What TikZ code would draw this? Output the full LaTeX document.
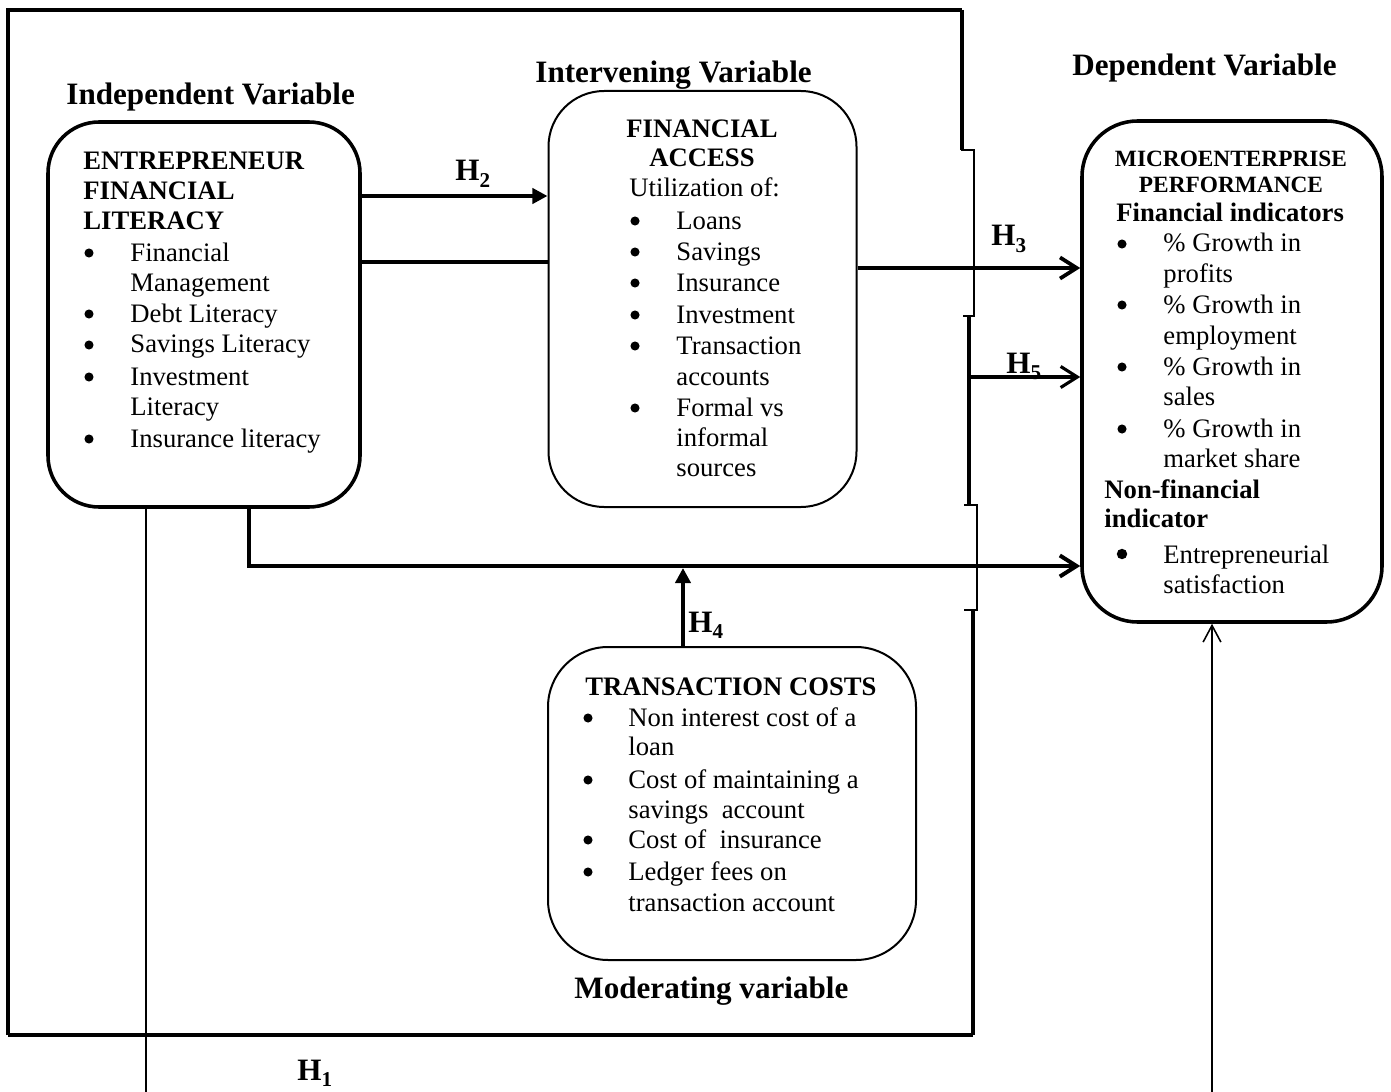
\documentclass[tikz,border=0pt]{standalone}
\usepackage{fontspec}
\setmainfont{Liberation Serif}
\usetikzlibrary{arrows.meta}
\newcommand\hsub[1]{\raisebox{-0.22em}{\fontsize{9.5}{10}\selectfont\bfseries #1}}
\begin{document}
\begin{tikzpicture}[x=0.45pt,y=-0.45pt,
  line join=miter,
  boxa/.style={draw, inner sep=0, line width=1.6pt},
  boxb/.style={draw, inner sep=0, line width=0.9pt},
  ln/.style={anchor=base west, inner sep=0, font=\fontsize{12}{14}\selectfont},
  lnb/.style={anchor=base west, inner sep=0, font=\fontsize{12}{14}\selectfont\bfseries},
  lnc/.style={anchor=base, inner sep=0, font=\fontsize{12}{14}\selectfont\bfseries},
  bul/.style={circle, fill, draw=none, inner sep=0, minimum size=4.1pt},
  head/.style={anchor=base west, inner sep=0, font=\fontsize{14}{16}\selectfont\bfseries},
  hlab/.style={anchor=base west, inner sep=0, font=\fontsize{14}{16}\selectfont\bfseries},
  fillhead/.style={-{Triangle[length=6.8pt,width=6.8pt]}},
  openhead/.style={-{Straight Barb[length=7.5pt,width=9.5pt]}}
]
\useasboundingbox (0,0) rectangle (1391,1092);

% ---------- outer frame ----------
\draw[line width=1.8pt] (8,1035) -- (8,10) -- (962,10);
\draw[line width=1.4pt] (962,10) -- (962,150);
\draw[line width=0.9pt] (961,150) -- (974,150) -- (974,316) -- (963,316);
\draw[line width=2.1pt] (969,316) -- (969,505);
\draw[line width=0.9pt] (964,505) -- (977,505) -- (977,610) -- (964,610);
\draw[line width=1.4pt] (973,610) -- (973,1035);
\draw[line width=1.8pt] (973,1035) -- (8,1035);
\coordinate (h5start) at (969,377);

% ---------- boxes ----------
\node[boxa, rounded corners=23pt, minimum width={312*0.45pt}, minimum height={385*0.45pt}] (iv) at (204,314.5) {};
\node[boxb, rounded corners=25pt, minimum width={308*0.45pt}, minimum height={416*0.45pt}] (fa) at (702.5,299) {};
\node[boxa, rounded corners=25pt, minimum width={300*0.45pt}, minimum height={501*0.45pt}] (dv) at (1232,371.5) {};
\node[boxb, rounded corners=27pt, minimum width={368*0.45pt}, minimum height={313*0.45pt}] (tc) at (732,803.5) {};

% ---------- headings ----------
\node[head] (hiv) at (66,105) {Independent Variable};
\node[head] (hfa) at (535,83) {Intervening Variable};
\node[head] (hdv) at (1072,76) {Dependent Variable};
\node[head] (htc) at (574,998) {Moderating variable};

% ---------- independent variable text ----------
\node[lnb] (ivt1) at (83,170) {ENTREPRENEUR};
\node[lnb] (ivt2) at (83,200) {FINANCIAL};
\node[lnb] (ivt3) at (83,229) {LITERACY};
\foreach \y/\t [count=\i] in {261/Financial, 291/Management, 322/Debt Literacy, 353/Savings Literacy, 385/Investment, 415/Literacy, 447/Insurance literacy}
  {\node[ln] (ivl\i) at (130,\y) {\t};}
\foreach \y [count=\i] in {261,322,353,385,447}
  {\node[bul] (ivb\i) at (89,\y-8) {};}

% ---------- intervening variable text ----------
\node[lnc] (fat1) at (702,138) {FINANCIAL};
\node[lnc] (fat2) at (702,167) {ACCESS};
\node[ln] (fat3) at (629,197) {Utilization of:};
\foreach \y/\t [count=\i] in {229/Loans, 260/Savings, 291/Insurance, 323/Investment, 354/Transaction, 385/accounts, 416/Formal vs, 446/informal, 476/sources}
  {\node[ln] (fal\i) at (676,\y) {\t};}
\foreach \y [count=\i] in {229,260,291,323,354,416}
  {\node[bul] (fab\i) at (635,\y-8) {};}

% ---------- dependent variable text ----------
\node[anchor=base, inner sep=0, font=\fontsize{10.5}{12}\selectfont\bfseries] (dvt1) at (1231,167) {MICROENTERPRISE};
\node[anchor=base, inner sep=0, font=\fontsize{10.5}{12}\selectfont\bfseries] (dvt2) at (1231,193) {PERFORMANCE};
\node[lnb] (dvt3) at (1116,222) {Financial indicators};
\foreach \y/\t [count=\i] in {252/\% Growth in, 282/profits, 313/\% Growth in, 344/employment, 375/\% Growth in, 405/sales, 437/\% Growth in, 467/market share}
  {\node[ln] (dvl\i) at (1163,\y) {\t};}
\foreach \y [count=\i] in {252,313,375,437}
  {\node[bul] (dvb\i) at (1122,\y-8) {};}
\node[lnb] (dvt4) at (1104,498) {Non-financial};
\node[lnb] (dvt5) at (1104,527) {indicator};
\node[bul, minimum size=4.7pt] (dvb5) at (1122,554) {};
\node[ln] (dvl9) at (1163,563) {Entrepreneurial};
\node[ln] (dvl10) at (1163,593) {satisfaction};

% ---------- transaction costs text ----------
\node[lnc] (tct1) at (731,695) {TRANSACTION COSTS};
\foreach \y/\t [count=\i] in {726/Non interest cost of a, 755/loan, 788/Cost of maintaining a, 818/savings~ account, 848/Cost of~ insurance, 880/Ledger fees on, 911/transaction account}
  {\node[ln] (tcl\i) at (628,\y) {\t};}
\foreach \y [count=\i] in {726,788,848,880}
  {\node[bul] (tcb\i) at (588,\y-8) {};}

% ---------- connectors ----------
\draw[line width=1.8pt, fillhead] (iv.east |- 0,196) ++(-4,0) -- (fa.west |- 0,196);
\draw[line width=1.8pt] (iv.east |- 0,262) -- (fa.west |- 0,262);
\draw[line width=1.7pt, openhead] (fa.east |- 0,268) -- (dv.west |- 0,268);
\draw[line width=1.4pt, openhead] (h5start) -- (dv.west |- 0,377);
\draw[line width=1.8pt, openhead] (iv.south -| 249,0) -- (249,566) -- (dv.west |- 0,566);
\draw[line width=1.7pt, fillhead] (tc.north -| 683,0) -- (683,568);
\draw[line width=0.7pt, -{Straight Barb[length=7.5pt,width=8pt]}] (iv.south -| 146,0) -- (146,1092.3) -- (1212,1092.3) -- (dv.south -| 1212,0);

% ---------- hypothesis labels ----------
\node[hlab] (h2) at (455,181) {H\hsub{2}};
\node[hlab] (h3) at (991,246) {H\hsub{3}};
\node[hlab] (h5) at (1006,373) {H\hsub{5}};
\node[hlab] (h4) at (688,632) {H\hsub{4}};
\node[hlab] (h1) at (297,1080) {H\hsub{1}};
\end{tikzpicture}
\end{document}
